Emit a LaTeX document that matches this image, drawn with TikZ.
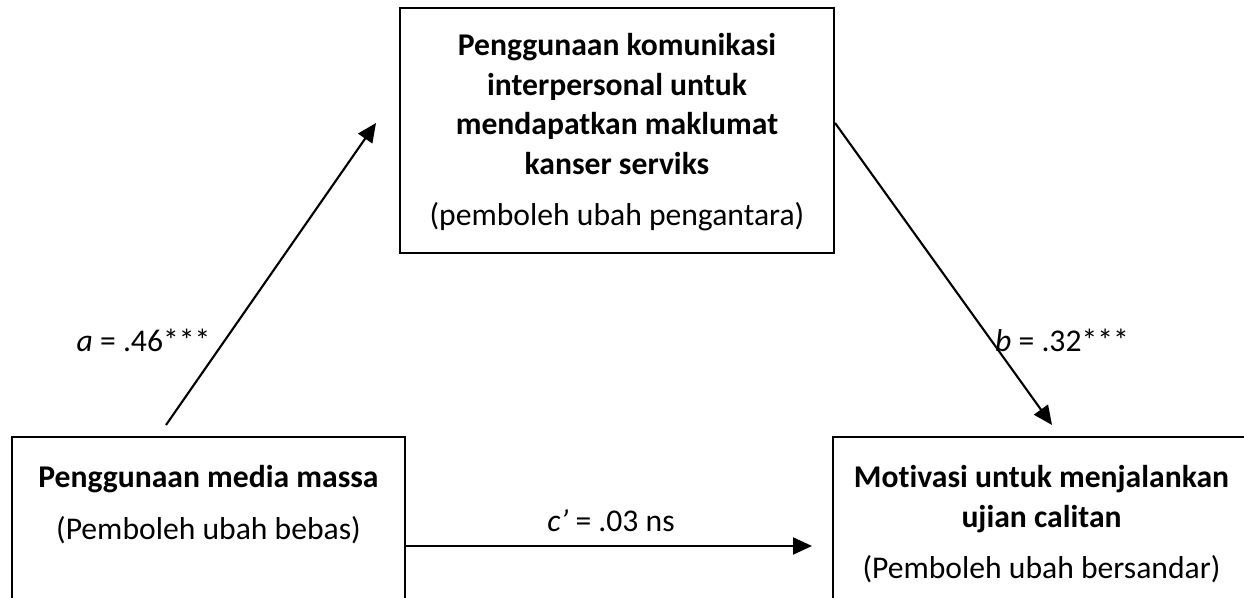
\documentclass[tikz,border=0pt]{standalone}
\usepackage{fontspec}
\setmainfont{Carlito}[RawFeature={-liga;-clig;-dlig;-calt}]
\usetikzlibrary{arrows.meta,positioning}

\tikzset{
	box/.style={draw, line width=1.2pt, inner sep=0pt},
	txt/.style={align=center, inner sep=0pt, font=\fontsize{18}{22.5}\selectfont},
	coef/.style={anchor=base, inner sep=0pt, font=\fontsize{18}{22}\selectfont},
	arr/.style={-{Triangle[length=3.8mm,width=3.4mm]}, line width=1.2pt}
}

\begin{document}
\begin{tikzpicture}
	\clip (0,0) rectangle (24.88,11.96); % page size
	
	% Draw the three boxes
	\node[box, minimum width=8.68cm, minimum height=4.9cm] (med) at (12.34,9.35) {};
	\node[box, minimum width=7.86cm, minimum height=3.6cm, anchor=north] (iv) at (4.17,3.24) {};
	\node[box, minimum width=8.34cm, minimum height=3.6cm, anchor=north] (dv) at (20.83,3.24) {};
	
	% Box texts
	\node[txt, below=0.52cm of med.north] (medtext) {\textbf{Penggunaan komunikasi}\\ \textbf{interpersonal untuk}\\ \textbf{mendapatkan maklumat}\\ \textbf{kanser serviks}\\[7pt] (pemboleh ubah pengantara)};
	\node[txt, below=0.58cm of iv.north] (ivtext) {\textbf{Penggunaan media massa}\\[7pt] (Pemboleh ubah bebas)};
	\node[txt, below=0.58cm of dv.north] (dvtext) {\textbf{Motivasi untuk menjalankan}\\ \textbf{ujian calitan}\\[7pt] (Pemboleh ubah bersandar)};
	
	% Paths
	\coordinate (aS) at (3.32,3.46);
	\coordinate (aE) at (7.52,9.50);
	\coordinate (bE) at (21.04,3.46);
	\coordinate (cE) at (16.24,1.04);
	\draw[arr] (aS) -- (aE); % a path
	\draw[arr] (med.east |- aE) -- (bE); % b path
	\draw[arr] (iv.east |- cE) -- (cE); % direct path
	
	% Coefficients
	\node[coef] (alab) at (2.87,4.92) {\textit{a} = .46***};
	\node[coef] (blab) at (21.24,4.92) {\textit{b} = .32***};
	\node[coef] (clab) at (12.22,1.32) {\textit{c’} = .03 ns};
\end{tikzpicture}
\end{document}
